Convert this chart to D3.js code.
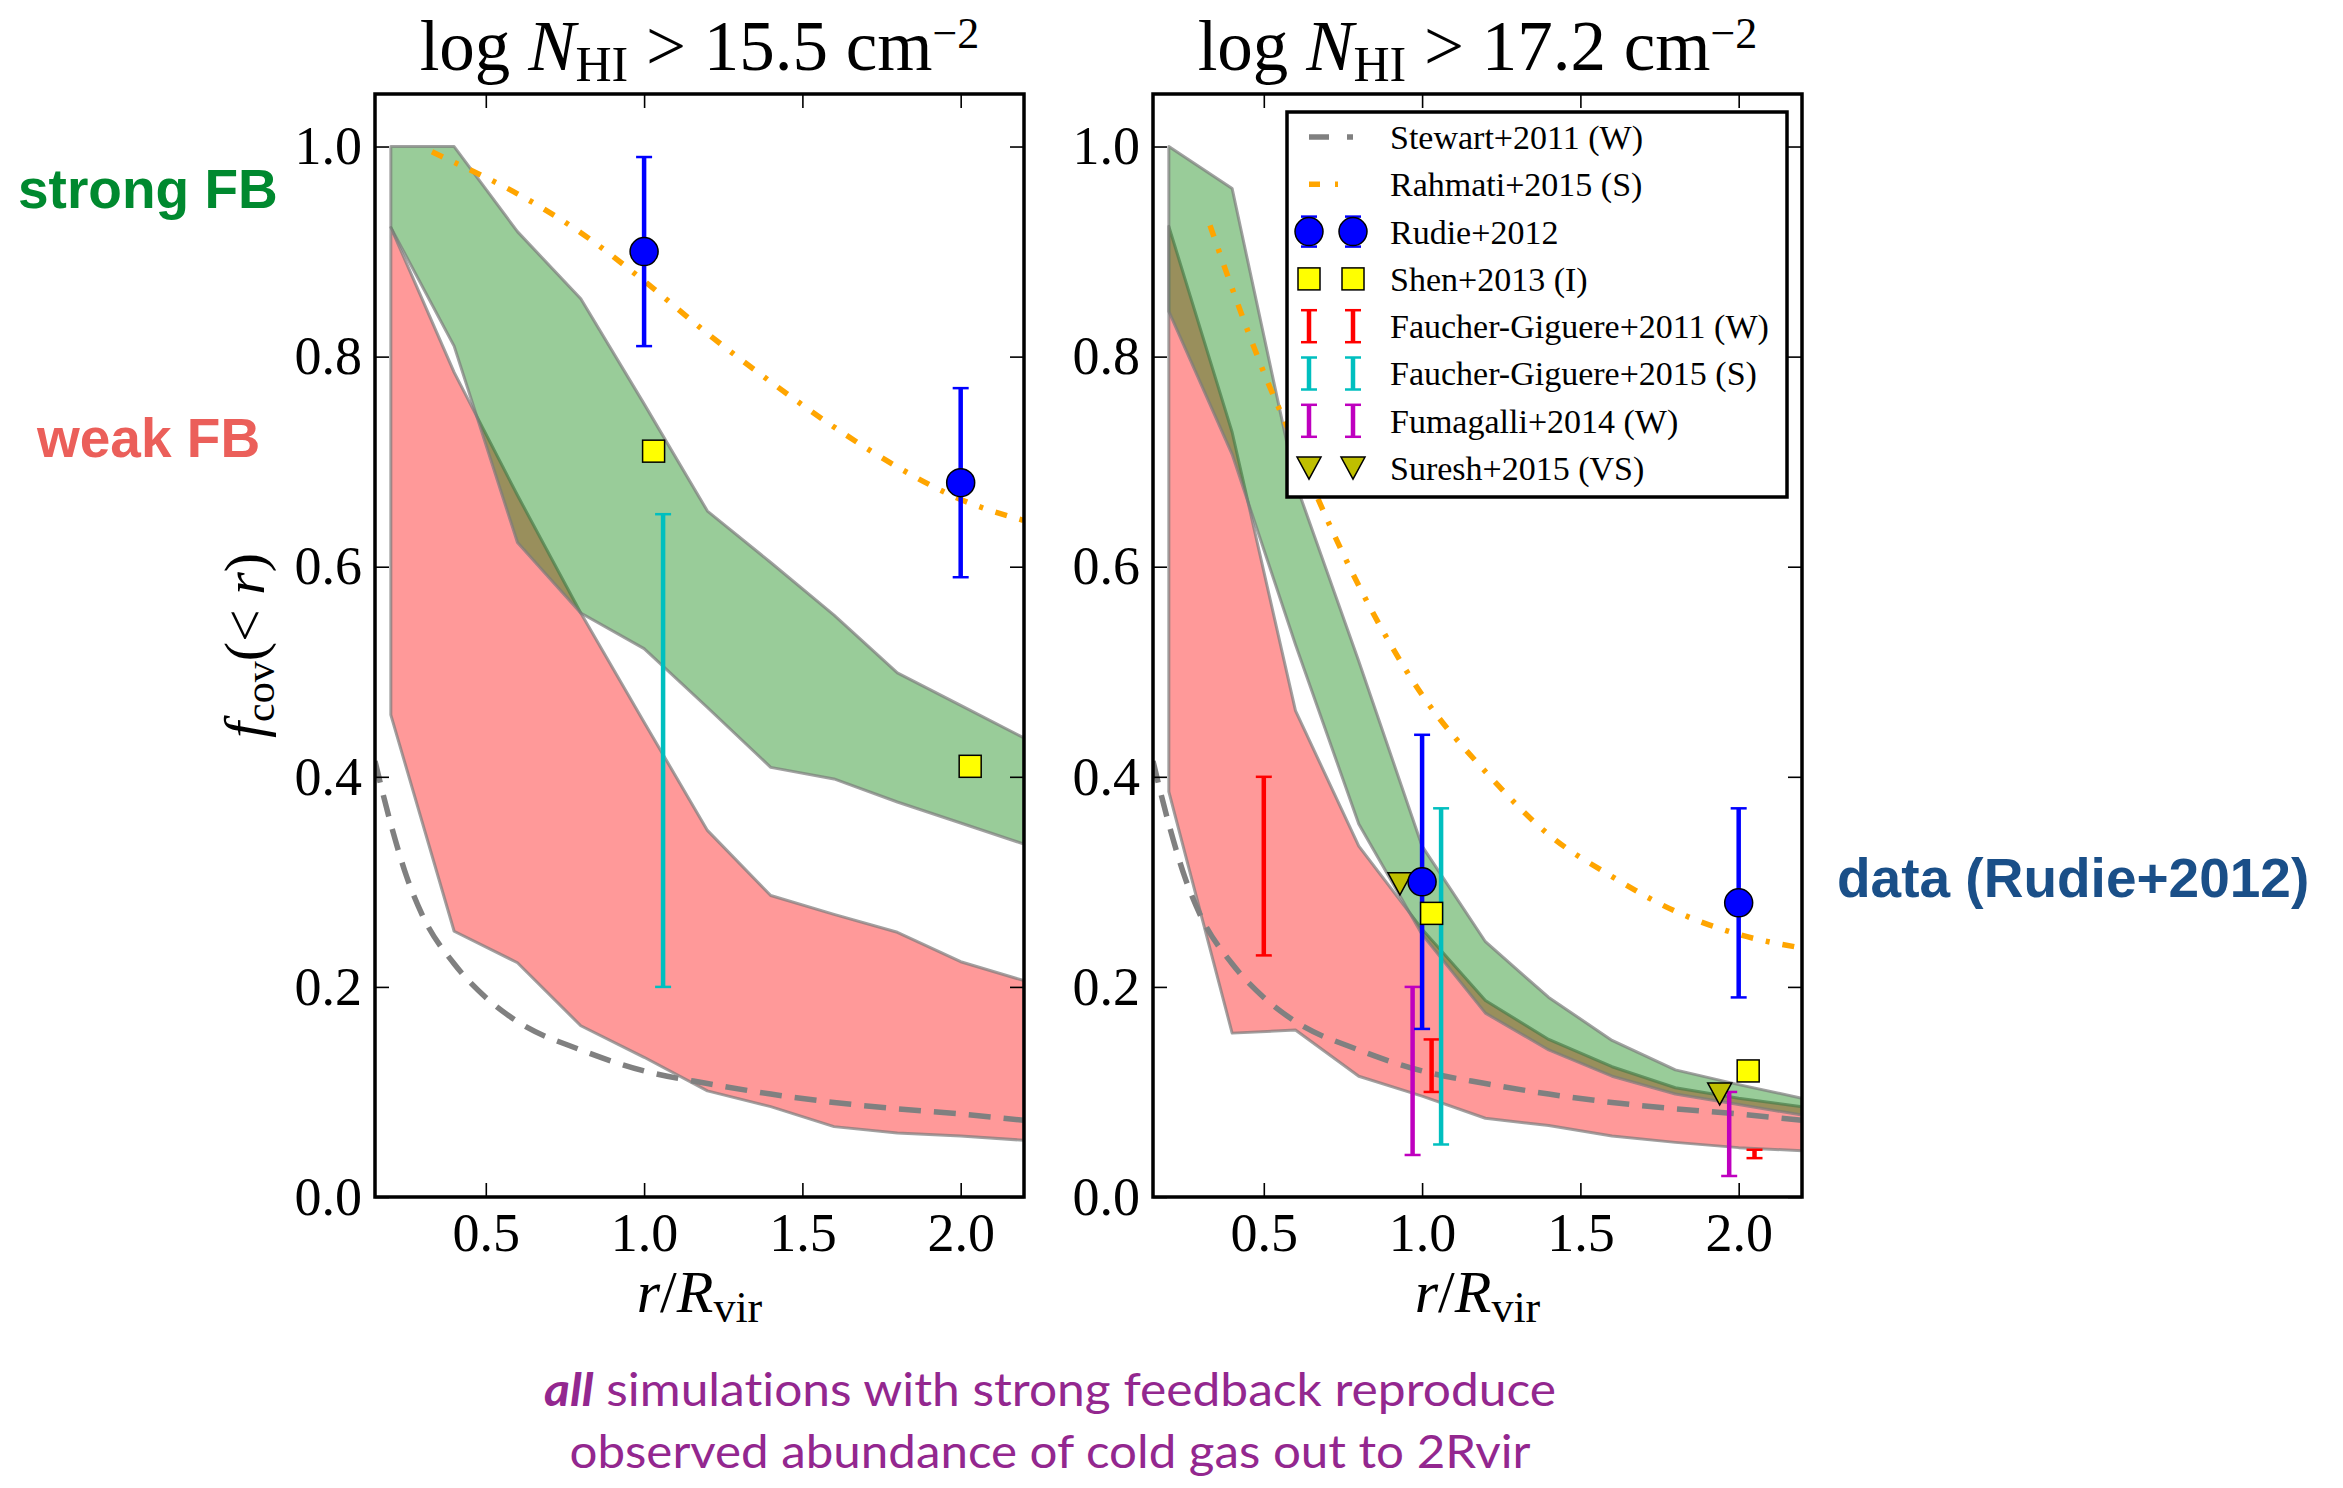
<!DOCTYPE html>
<html>
<head>
<meta charset="utf-8">
<script src="https://d3js.org/d3.v7.min.js"></script>
<style>
  html, body { margin: 0; padding: 0; background: #fff; }
  svg { display: block; }
  .tick text { font-family: "Liberation Serif", serif; font-size: 54px; fill: #000; }
  .tick line { stroke: #000; stroke-width: 1.6; }
</style>
</head>
<body>
<svg id="chart"></svg>
<script>
// radial grid of the simulation bands
var rGrid = [0.2, 0.4, 0.6, 0.8, 1.0, 1.2, 1.4, 1.6, 1.8, 2.0, 2.2];

// log N_HI > 15.5
var strongHiA = [1.0, 1.0, 0.919, 0.855, 0.755, 0.653, 0.604, 0.554, 0.499, 0.468, 0.437];
var strongLoA = [0.923, 0.81, 0.623, 0.556, 0.522, 0.466, 0.409, 0.398, 0.376, 0.356, 0.336];
var weakHiA   = [0.923, 0.785, 0.668, 0.556, 0.452, 0.349, 0.287, 0.269, 0.252, 0.224, 0.206];
var weakLoA   = [0.459, 0.253, 0.223, 0.163, 0.133, 0.101, 0.086, 0.067, 0.061, 0.058, 0.054];

// log N_HI > 17.2
var strongHiB = [1.0, 0.96, 0.68, 0.51, 0.334, 0.243, 0.19, 0.149, 0.121, 0.107, 0.094];
var strongLoB = [0.843, 0.707, 0.526, 0.355, 0.25, 0.175, 0.14, 0.115, 0.098, 0.088, 0.078];
var weakHiB   = [0.924, 0.728, 0.463, 0.334, 0.255, 0.187, 0.15, 0.124, 0.104, 0.094, 0.086];
var weakLoB   = [0.386, 0.156, 0.159, 0.115, 0.096, 0.075, 0.068, 0.058, 0.052, 0.047, 0.044];

// Stewart+2011 (same curve in both panels)
var rStewart = [0.15, 0.2, 0.25, 0.3, 0.4, 0.5, 0.6, 0.8, 1.0, 1.2, 1.4, 1.6, 1.8, 2.0, 2.2];
var fStewart = [0.415, 0.355, 0.305, 0.268, 0.222, 0.19, 0.167, 0.14, 0.12, 0.108, 0.098, 0.09, 0.084, 0.079, 0.073];

// Rahmati+2015
var rRahmatiA = [0.33, 0.4, 0.6, 0.8, 1.0, 1.2, 1.4, 1.6, 1.8, 2.0, 2.2];
var fRahmatiA = [0.995, 0.985, 0.955, 0.918, 0.872, 0.822, 0.776, 0.733, 0.695, 0.664, 0.644];
var rRahmatiB = [0.33, 0.4, 0.5, 0.6, 0.7, 0.8, 1.0, 1.2, 1.4, 1.6, 1.8, 2.0, 2.2];
var fRahmatiB = [0.925, 0.865, 0.785, 0.715, 0.645, 0.582, 0.478, 0.405, 0.345, 0.305, 0.272, 0.25, 0.237];

// observations: [r, value, low, high]
var rudieA  = [[1.0, 0.90, 0.81, 0.99], [2.0, 0.68, 0.59, 0.77]];
var rudieB  = [[1.0, 0.30, 0.16, 0.44], [2.0, 0.28, 0.19, 0.37]];
var shenA   = [[1.03, 0.71], [2.03, 0.41]];
var shenB   = [[1.03, 0.27], [2.03, 0.12]];
var fg15A   = [[1.06, 0.20, 0.65]];
var fg15B   = [[1.06, 0.05, 0.37]];
var fg11B   = [[0.5, 0.23, 0.40], [1.03, 0.10, 0.15], [2.05, 0.037, 0.045]];
var fumaB   = [[0.97, 0.04, 0.20], [1.97, 0.02, 0.10]];
var sureshB = [[0.93, 0.30], [1.94, 0.10]];

var xTicks = [0.5, 1.0, 1.5, 2.0];
var yTicks = [0.0, 0.2, 0.4, 0.6, 0.8, 1.0];

var legendLabels = ["Stewart+2011 (W)", "Rahmati+2015 (S)", "Rudie+2012", "Shen+2013 (I)",
  "Faucher-Giguere+2011 (W)", "Faucher-Giguere+2015 (S)", "Fumagalli+2014 (W)", "Suresh+2015 (VS)"];

var W = 2343, H = 1488;
var panelW = 649, panelH = 1103, panelTop = 94;
var panelLefts = [375, 1153];

var svg = d3.select("#chart").attr("width", W).attr("height", H);
svg.append("rect").attr("width", W).attr("height", H).attr("fill", "#fff");

var x = d3.scaleLinear().domain([0.15, 2.2]).range([0, panelW]);
var y = d3.scaleLinear().domain([0, 1.05]).range([panelH, 0]);

var defs = svg.append("defs");
defs.append("clipPath").attr("id", "clip")
  .append("rect").attr("width", panelW).attr("height", panelH);

var serif = "'Liberation Serif', serif";

function band(g, hi, lo, fill) {
  var pts = rGrid.map(function (r, i) { return [r, lo[i], hi[i]]; });
  g.append("path")
    .datum(pts)
    .attr("d", d3.area()
      .x(function (d) { return x(d[0]); })
      .y0(function (d) { return y(d[1]); })
      .y1(function (d) { return y(d[2]); }))
    .attr("fill", fill)
    .attr("fill-opacity", 0.4)
    .attr("stroke", "#7a7a7a")
    .attr("stroke-opacity", 0.7)
    .attr("stroke-width", 3)
    .attr("stroke-linejoin", "round");
}

function curve(g, rs, fs, color, dash, width) {
  g.append("path")
    .datum(rs.map(function (r, i) { return [r, fs[i]]; }))
    .attr("d", d3.line()
      .x(function (d) { return x(d[0]); })
      .y(function (d) { return y(d[1]); })
      .curve(d3.curveMonotoneX))
    .attr("fill", "none")
    .attr("stroke", color)
    .attr("stroke-width", width)
    .attr("stroke-dasharray", dash);
}

function errbar(g, xp, y0, y1, color) {
  g.append("line")
    .attr("x1", xp).attr("x2", xp).attr("y1", y0).attr("y2", y1)
    .attr("stroke", color).attr("stroke-width", 4.5);
  [y0, y1].forEach(function (yy) {
    g.append("line")
      .attr("x1", xp - 8).attr("x2", xp + 8).attr("y1", yy).attr("y2", yy)
      .attr("stroke", color).attr("stroke-width", 2.5);
  });
}

function circleMark(g, cx, cy) {
  g.append("circle").attr("cx", cx).attr("cy", cy).attr("r", 14)
    .attr("fill", "#0000ff").attr("stroke", "#000").attr("stroke-width", 1.5);
}
function squareMark(g, cx, cy) {
  g.append("rect").attr("x", cx - 11).attr("y", cy - 11).attr("width", 22).attr("height", 22)
    .attr("fill", "#ffff00").attr("stroke", "#000").attr("stroke-width", 1.5);
}
function triMark(g, cx, cy) {
  g.append("path")
    .attr("d", "M" + (cx - 12) + "," + (cy - 9) + "L" + (cx + 12) + "," + (cy - 9) + "L" + cx + "," + (cy + 13) + "Z")
    .attr("fill", "#bfbf00").attr("stroke", "#000").attr("stroke-width", 1.5);
}

function drawPanel(idx, opts) {
  var g = svg.append("g").attr("transform", "translate(" + panelLefts[idx] + "," + panelTop + ")");
  var plot = g.append("g").attr("clip-path", "url(#clip)");

  band(plot, opts.weakHi, opts.weakLo, "#ff0000");
  band(plot, opts.strongHi, opts.strongLo, "#008000");

  curve(plot, rStewart, fStewart, "#808080", "22,13", 5.5);
  curve(plot, opts.rRah, opts.fRah, "#ffa500", "12,13,4,13", 5.5);

  (opts.fg11 || []).forEach(function (d) { errbar(plot, x(d[0]), y(d[1]), y(d[2]), "#ff0000"); });
  (opts.fg15 || []).forEach(function (d) { errbar(plot, x(d[0]), y(d[1]), y(d[2]), "#00bfbf"); });
  (opts.fuma || []).forEach(function (d) { errbar(plot, x(d[0]), y(d[1]), y(d[2]), "#bf00bf"); });
  (opts.suresh || []).forEach(function (d) { triMark(plot, x(d[0]), y(d[1])); });
  opts.rudie.forEach(function (d) {
    errbar(plot, x(d[0]), y(d[2]), y(d[3]), "#0000ff");
    circleMark(plot, x(d[0]), y(d[1]));
  });
  opts.shen.forEach(function (d) { squareMark(plot, x(d[0]), y(d[1])); });

  // axes with inward ticks on all four sides
  g.append("g").attr("transform", "translate(0," + panelH + ")")
    .call(d3.axisBottom(x).tickValues(xTicks).tickSize(-14).tickPadding(16).tickFormat(d3.format(".1f")))
    .call(function (s) { s.select(".domain").remove(); });
  g.append("g")
    .call(d3.axisTop(x).tickValues(xTicks).tickSize(-14).tickFormat(""))
    .call(function (s) { s.select(".domain").remove(); });
  g.append("g")
    .call(d3.axisLeft(y).tickValues(yTicks).tickSize(-14).tickPadding(13).tickFormat(d3.format(".1f")))
    .call(function (s) { s.select(".domain").remove(); });
  g.append("g").attr("transform", "translate(" + panelW + ",0)")
    .call(d3.axisRight(y).tickValues(yTicks).tickSize(-14).tickFormat(""))
    .call(function (s) { s.select(".domain").remove(); });

  g.append("rect").attr("width", panelW).attr("height", panelH)
    .attr("fill", "none").attr("stroke", "#000").attr("stroke-width", 3.5);

  // panel title
  var t = g.append("text").attr("x", panelW / 2).attr("y", 70 - panelTop)
    .attr("text-anchor", "middle").attr("font-family", serif).attr("font-size", 71);
  t.append("tspan").text("log ");
  t.append("tspan").attr("font-style", "italic").text("N");
  t.append("tspan").attr("font-size", 50).attr("dy", 11).text("HI");
  t.append("tspan").attr("dy", -11).text(" > " + opts.threshold + " cm");
  t.append("tspan").attr("font-size", 44).attr("dy", -22).text("\u22122");

  // x label
  var xl = g.append("text").attr("x", panelW / 2).attr("y", 1312 - panelTop)
    .attr("text-anchor", "middle").attr("font-family", serif).attr("font-size", 60);
  xl.append("tspan").attr("font-style", "italic").text("r");
  xl.append("tspan").text("/");
  xl.append("tspan").attr("font-style", "italic").text("R");
  xl.append("tspan").attr("font-size", 44).attr("dy", 10).text("vir");

  return g;
}

var gA = drawPanel(0, {
  strongHi: strongHiA, strongLo: strongLoA, weakHi: weakHiA, weakLo: weakLoA,
  rRah: rRahmatiA, fRah: fRahmatiA, rudie: rudieA, shen: shenA, fg15: fg15A,
  threshold: "15.5"
});
var gB = drawPanel(1, {
  strongHi: strongHiB, strongLo: strongLoB, weakHi: weakHiB, weakLo: weakLoB,
  rRah: rRahmatiB, fRah: fRahmatiB, rudie: rudieB, shen: shenB, fg15: fg15B,
  fg11: fg11B, fuma: fumaB, suresh: sureshB, threshold: "17.2"
});

// y label on the left panel
var yl = svg.append("text")
  .attr("transform", "translate(264," + (panelTop + panelH / 2) + ") rotate(-90)")
  .attr("text-anchor", "middle").attr("font-family", serif).attr("font-size", 58);
yl.append("tspan").attr("font-style", "italic").text("f");
yl.append("tspan").attr("font-size", 42).attr("dy", 10).text("cov");
yl.append("tspan").attr("dy", -10).text("(< ");
yl.append("tspan").attr("font-style", "italic").text("r");
yl.append("tspan").text(")");

// legend in the right panel
var lg = gB.append("g").attr("transform", "translate(134,18)");
lg.append("rect").attr("width", 500).attr("height", 385)
  .attr("fill", "#fff").attr("stroke", "#000").attr("stroke-width", 3.5);
var rowY = function (i) { return 25 + 47.3 * i; };
var mx = [22, 66];

lg.append("line").attr("x1", mx[0]).attr("x2", mx[1]).attr("y1", rowY(0)).attr("y2", rowY(0))
  .attr("stroke", "#808080").attr("stroke-width", 5.5).attr("stroke-dasharray", "20,18");
lg.append("line").attr("x1", mx[0]).attr("x2", mx[1]).attr("y1", rowY(1)).attr("y2", rowY(1))
  .attr("stroke", "#ffa500").attr("stroke-width", 5.5).attr("stroke-dasharray", "11,15,3,20");
mx.forEach(function (px) {
  errbar(lg, px, rowY(2) - 15, rowY(2) + 15, "#0000ff");
  circleMark(lg, px, rowY(2));
  squareMark(lg, px, rowY(3));
  errbar(lg, px, rowY(4) - 16, rowY(4) + 16, "#ff0000");
  errbar(lg, px, rowY(5) - 16, rowY(5) + 16, "#00bfbf");
  errbar(lg, px, rowY(6) - 16, rowY(6) + 16, "#bf00bf");
  triMark(lg, px, rowY(7) - 2);
});
lg.selectAll("text.lab").data(legendLabels).enter().append("text")
  .attr("class", "lab")
  .attr("x", 103).attr("y", function (d, i) { return rowY(i); })
  .attr("dy", "0.35em")
  .attr("font-family", serif).attr("font-size", 34)
  .text(function (d) { return d; });

// side annotations
var sans = "'Liberation Sans', Arial, sans-serif";
svg.append("text").attr("x", 18).attr("y", 208).attr("font-family", sans).attr("font-weight", "bold")
  .attr("font-size", 55).attr("fill", "#00892f").text("strong FB");
svg.append("text").attr("x", 37).attr("y", 457).attr("font-family", sans).attr("font-weight", "bold")
  .attr("font-size", 55).attr("fill", "#eb5f5a").text("weak FB");
svg.append("text").attr("x", 1837).attr("y", 897).attr("font-family", sans).attr("font-weight", "bold")
  .attr("font-size", 55).attr("fill", "#1a4f88").text("data (Rudie+2012)");

// caption
var cap1 = svg.append("text").attr("x", 1050).attr("y", 1406).attr("text-anchor", "middle")
  .attr("font-family", "Lato, sans-serif").attr("font-size", 46).attr("fill", "#93278f")
  .style("font-variant-ligatures", "none")
  .attr("textLength", 1012).attr("lengthAdjust", "spacingAndGlyphs");
cap1.append("tspan").attr("font-style", "italic").attr("font-weight", "bold").text("all");
cap1.append("tspan").text(" simulations with strong feedback reproduce");
svg.append("text").attr("x", 1050).attr("y", 1468).attr("text-anchor", "middle")
  .attr("font-family", "Lato, sans-serif").attr("font-size", 46).attr("fill", "#93278f")
  .style("font-variant-ligatures", "none")
  .attr("textLength", 961).attr("lengthAdjust", "spacingAndGlyphs")
  .text("observed abundance of cold gas out to 2Rvir");
</script>
</body>
</html>
